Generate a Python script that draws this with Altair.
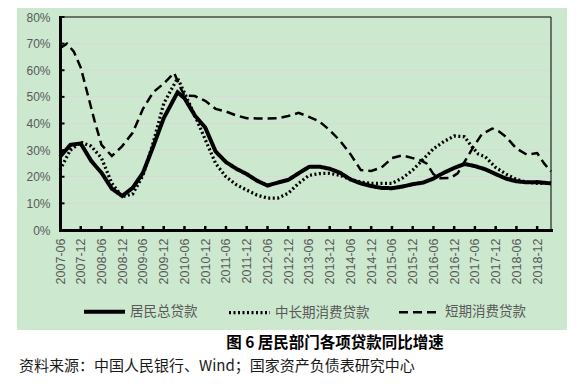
import altair as alt
import pandas as pd

# ---------------- data ----------------
series_names = ["居民总贷款", "中长期消费贷款", "短期消费贷款"]

total_dates = ["2007-06", "2007-09", "2007-12", "2008-03", "2008-06", "2008-09", "2008-12",
               "2009-03", "2009-06", "2009-09", "2009-12", "2010-04", "2010-06", "2010-09",
               "2010-12", "2011-03", "2011-06", "2011-09", "2011-12", "2012-03", "2012-06",
               "2012-09", "2012-12", "2013-03", "2013-06", "2013-09", "2013-12", "2014-03",
               "2014-06", "2014-09", "2014-12", "2015-03", "2015-06", "2015-09", "2015-12",
               "2016-03", "2016-06", "2016-09", "2016-12", "2017-03", "2017-06", "2017-09",
               "2017-12", "2018-03", "2018-06", "2018-09", "2018-12", "2019-04"]
total_vals = [27.5, 32.0, 32.5, 26.0, 21.5, 15.5, 12.8,
              15.8, 21.5, 31.5, 42.0, 51.7, 49.5, 43.0,
              38.5, 29.5, 25.5, 23.0, 21.0, 18.5, 16.7,
              17.8, 18.8, 21.3, 23.7, 23.8, 23.0, 21.5,
              19.0, 17.5, 16.5, 15.8, 15.7, 16.3, 17.2,
              17.8, 19.3, 21.5, 23.3, 24.8, 24.0, 22.8,
              21.0, 19.3, 18.3, 17.9, 18.0, 17.5]

mid_dates = ["2007-06", "2007-09", "2007-12", "2008-03", "2008-06", "2008-09", "2008-12",
             "2009-03", "2009-06", "2009-09", "2009-12", "2010-04", "2010-06", "2010-09",
             "2010-12", "2011-03", "2011-06", "2011-09", "2011-12", "2012-03", "2012-06",
             "2012-09", "2012-12", "2013-03", "2013-06", "2013-09", "2013-12", "2014-03",
             "2014-06", "2014-09", "2014-12", "2015-03", "2015-06", "2015-09", "2015-12",
             "2016-03", "2016-06", "2016-09", "2016-12", "2017-03", "2017-05", "2017-07",
             "2017-09", "2017-12", "2018-03", "2018-06", "2018-09", "2018-12", "2019-04"]
mid_vals = [22.5, 30.0, 33.0, 31.5, 27.0, 17.5, 12.5,
            13.5, 20.5, 33.0, 47.5, 57.0, 51.5, 43.0,
            34.0, 25.0, 20.0, 17.0, 15.0, 13.1, 12.0,
            12.0, 13.8, 17.5, 20.5, 21.2, 21.3, 20.5,
            19.0, 18.0, 17.5, 17.5, 17.5, 19.5, 22.5,
            26.5, 30.5, 33.2, 35.3, 35.0, 31.5, 28.5,
            27.5, 23.5, 21.0, 19.0, 18.0, 17.5, 17.5]

short_dates = ["2007-06", "2007-08", "2007-10", "2007-12", "2008-02", "2008-04", "2008-06",
               "2008-09", "2008-12", "2009-03", "2009-06", "2009-09", "2009-12", "2010-03",
               "2010-05", "2010-06", "2010-09", "2010-12", "2011-03", "2011-06", "2011-09",
               "2011-12", "2012-03", "2012-06", "2012-09", "2012-12", "2013-03", "2013-06",
               "2013-09", "2013-12", "2014-03", "2014-06", "2014-09", "2014-12", "2015-03",
               "2015-06", "2015-09", "2015-12", "2016-02", "2016-04", "2016-06", "2016-08",
               "2016-11", "2017-01", "2017-05", "2017-08", "2017-11", "2018-01", "2018-03",
               "2018-06", "2018-09", "2018-12", "2019-02", "2019-04"]
short_vals = [68.3, 70.0, 67.0, 61.0, 51.0, 41.0, 32.0,
              27.8, 31.5, 36.5, 45.5, 51.8, 55.0, 59.0,
              53.0, 50.5, 50.3, 48.5, 45.5, 44.5, 43.0,
              42.0, 41.9, 41.9, 42.0, 42.8, 44.0, 42.5,
              40.8, 37.5, 33.5, 28.5, 22.5, 22.2, 23.5,
              27.0, 28.0, 27.0, 26.3, 25.0, 21.0, 19.4,
              19.6, 21.3, 30.0, 36.0, 38.1, 37.0, 35.0,
              30.6, 28.3, 28.9, 25.0, 22.0]

x_labels = ["2007-06", "2007-12", "2008-06", "2008-12", "2009-06", "2009-12", "2010-06",
            "2010-12", "2011-06", "2011-12", "2012-06", "2012-12", "2013-06", "2013-12",
            "2014-06", "2014-12", "2015-06", "2015-12", "2016-06", "2016-12", "2017-06",
            "2017-12", "2018-06", "2018-12"]
x_end = "2019-04"
y_values = [0, 10, 20, 30, 40, 50, 60, 70, 80]

title_text = "图 6 居民部门各项贷款同比增速"
source_text = "资料来源：中国人民银行、Wind；国家资产负债表研究中心"


def month_index(s):
    yy, mm = s.split("-")
    return (int(yy) - 2007) * 12 + (int(mm) - 6)


rows = []
for name, ds, vs in zip(series_names, [total_dates, mid_dates, short_dates],
                        [total_vals, mid_vals, short_vals]):
    for d, v in zip(ds, vs):
        rows.append({"series": name, "date": d, "m": month_index(d), "v": v})
df = pd.DataFrame(rows)

tick_m = [month_index(s) for s in x_labels]
m_max = month_index(x_end)

# ---------------- styling ----------------
W, H = 491, 213
GREEN = "#cce8cf"
GRAY_TXT = "#595959"

xscale = alt.Scale(domain=[0, m_max], nice=False, zero=False)
yscale = alt.Scale(domain=[0, 80], nice=False, zero=False)

label_expr_x = ("(floor((datum.value+5)/12)+2007) + '-' + "
                "((((datum.value+5)%12)+1) < 10 ? '0' : '') + (((datum.value+5)%12)+1)")

x_axis = alt.Axis(values=tick_m, labelExpr=label_expr_x, labelAngle=270, labelAlign="right",
                  labelBaseline="middle", labelPadding=8, labelFont="Liberation Sans",
                  labelFontSize=12.5, labelColor=GRAY_TXT, ticks=False, grid=False,
                  domainColor="black", domainWidth=3, domainCap="square", title=None,
                  zindex=1, labelOverlap=False, labelFlush=False)
y_axis = alt.Axis(values=y_values, labelExpr="datum.value + '%'", labelFont="Liberation Sans",
                  labelFontSize=12, labelColor=GRAY_TXT, labelPadding=10, ticks=False,
                  grid=False, domainColor="black", domainWidth=3, domainCap="square",
                  title=None, zindex=1, labelOverlap=False)


def X(field):
    return alt.X(field, scale=xscale, axis=x_axis)


def Y(field):
    return alt.Y(field, scale=yscale, axis=y_axis)


one = pd.DataFrame({"a": [0]})

bg = alt.Chart(one).mark_rect(color=GREEN).encode(
    x=alt.value(-43), x2=alt.value(507), y=alt.value(-9), y2=alt.value(313))

grid_df = pd.DataFrame({"y": y_values[1:], "x0": 0, "x1": m_max,
                        "c": ["g"] * (len(y_values) - 2) + ["b"]})
grid = alt.Chart(grid_df).mark_rule(strokeWidth=1).encode(
    y=Y("y:Q"), x=X("x0:Q"), x2="x1",
    color=alt.Color("c:N", scale=alt.Scale(domain=["g", "b"], range=["#d9d9d9", "black"]),
                    legend=None))

right_border = alt.Chart(pd.DataFrame({"m": [m_max], "y0": 0, "y1": 80})).mark_rule(
    color="black", strokeWidth=1).encode(x=X("m:Q"), y=Y("y0:Q"), y2="y1")

xticks = alt.Chart(pd.DataFrame({"m": tick_m[1:], "y0": 0.0, "y1": 1.5})).mark_rule(
    color="black", strokeWidth=2.5).encode(x=X("m:Q"), y=Y("y0:Q"), y2="y1")
yticks = alt.Chart(pd.DataFrame({"y": y_values[1:], "x0": 0.0, "x1": 1.3})).mark_rule(
    color="black", strokeWidth=2).encode(y=Y("y:Q"), x=X("x0:Q"), x2="x1")

legend = alt.Legend(title=None, orient="none", legendX=22, legendY=272, direction="horizontal",
                    columns=3, symbolType="stroke", symbolSize=1681, symbolStrokeColor="black",
                    labelFont="Noto Sans CJK SC", labelFontSize=13.5, labelColor=GRAY_TXT,
                    labelOffset=3, columnPadding=24, padding=0)

lines = alt.Chart(df).mark_line(color="black").encode(
    x=X("m:Q"),
    y=Y("v:Q"),
    strokeDash=alt.StrokeDash("series:N",
                              scale=alt.Scale(domain=series_names,
                                              range=[[1, 0], [2, 2.5], [9, 5]]),
                              legend=legend),
    strokeWidth=alt.StrokeWidth("series:N",
                                scale=alt.Scale(type="point", domain=series_names,
                                                range=[4, 2.5], padding=0),
                                legend=legend),
    order=alt.Order("m:Q"),
)

title_mark = alt.Chart(pd.DataFrame({"t": [title_text]})).mark_text(
    font="Noto Sans CJK SC", fontSize=15.5, fontWeight="bold", color="black",
    align="center", baseline="middle").encode(
    text="t:N", x=alt.value(275), y=alt.value(326))

source_mark = alt.Chart(pd.DataFrame({"t": [source_text]})).mark_text(
    font="Noto Sans CJK SC", fontSize=15, color="#1a1a1a",
    align="left", baseline="middle").encode(
    text="t:N", x=alt.value(-41), y=alt.value(349))

chart = alt.layer(bg, grid, right_border, xticks, yticks, lines,
                  title_mark, source_mark).properties(
    width=W, height=H,
    autosize=alt.AutoSizeParams(type="none"),
    padding={"left": 52, "top": 9, "right": 25, "bottom": 145},
    background="white",
).configure_view(strokeWidth=0)

chart.save("out.html", embed_options={"renderer": "svg", "actions": False})
